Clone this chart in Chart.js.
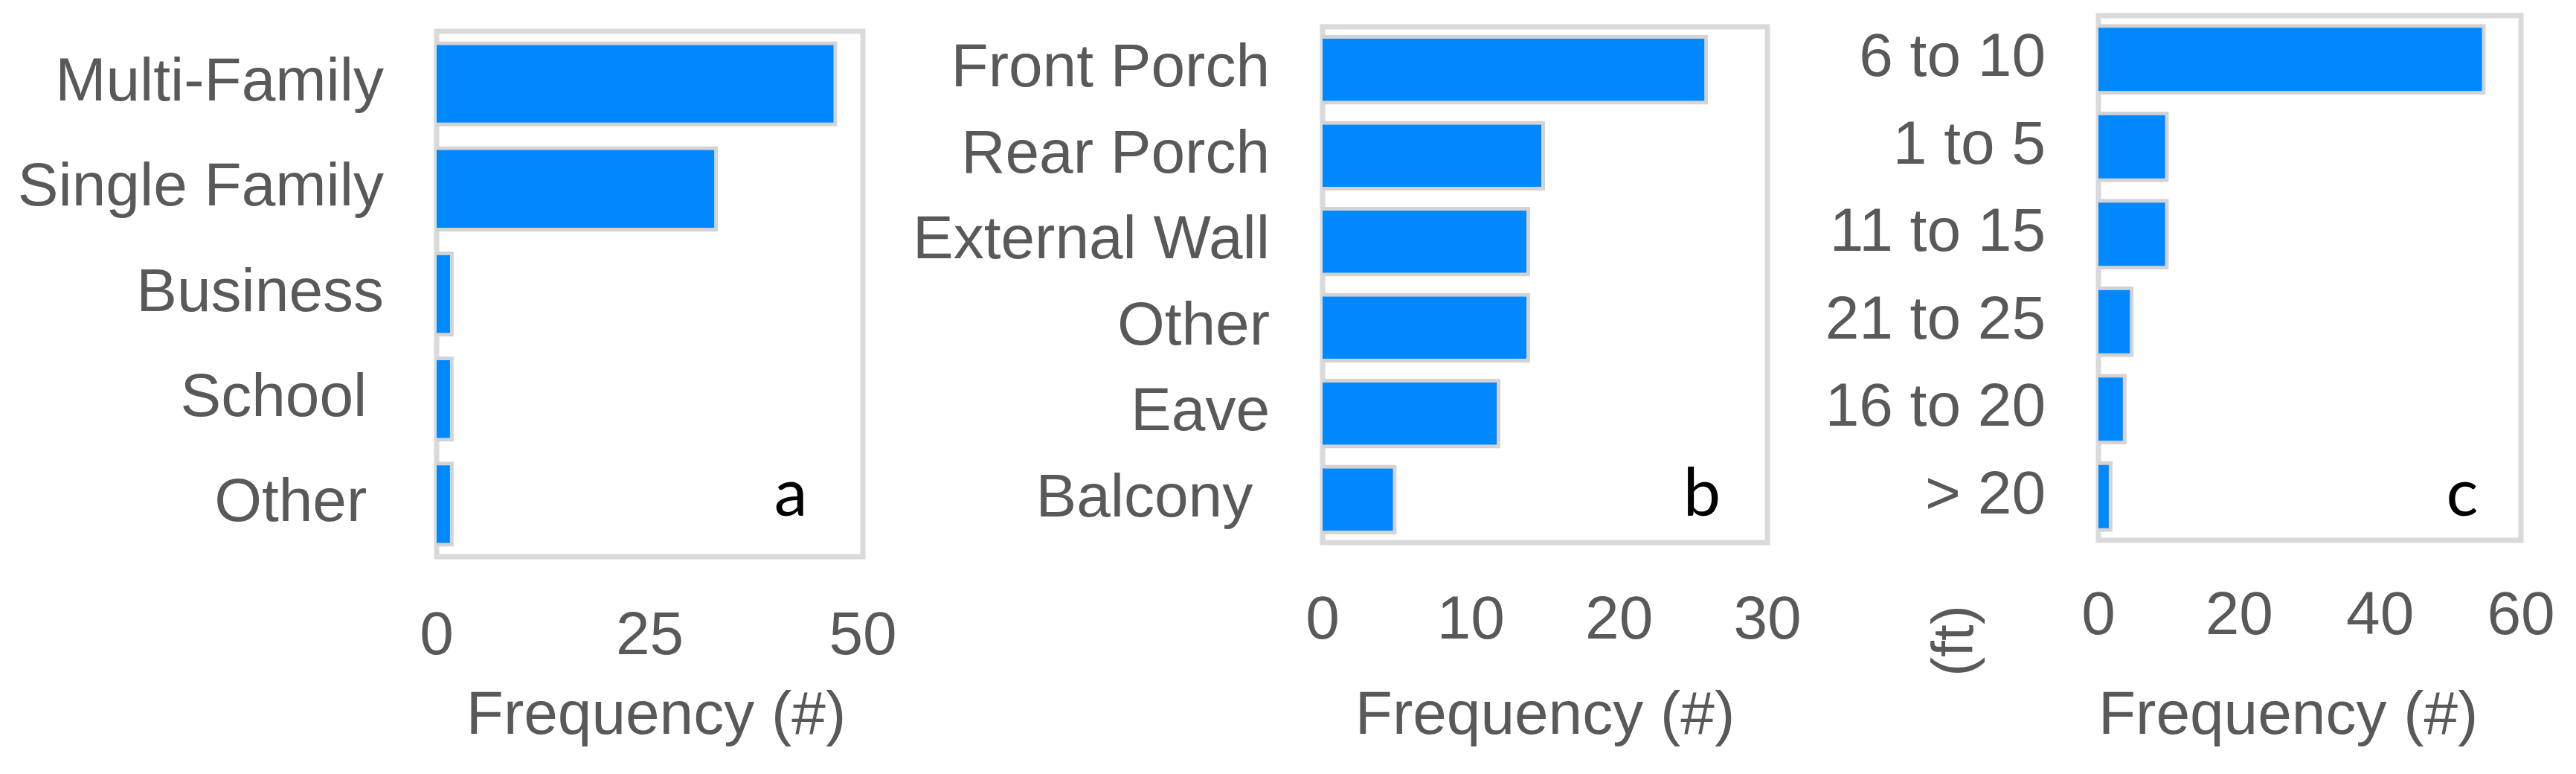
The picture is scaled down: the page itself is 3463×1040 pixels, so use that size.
<!DOCTYPE html>
<html>
<head>
<meta charset="utf-8">
<title>Frequency charts</title>
<script src="https://cdn.jsdelivr.net/npm/chart.js@4.4.1/dist/chart.umd.min.js"></script>
<style>
  html, body { margin: 0; padding: 0; background: #fff; }
  #wrap { position: relative; width: 3463px; height: 1040px; }
  #wrap canvas { position: absolute; left: 0; top: 0; }
</style>
</head>
<body>
<div id="wrap">
  <canvas id="chartA" width="3463" height="1040"></canvas>
  <canvas id="chartB" width="3463" height="1040"></canvas>
  <canvas id="chartC" width="3463" height="1040"></canvas>
</div>
<script>
// panel a - building type
const buildingLabels = ['Multi-Family', 'Single Family', 'Business', 'School ', 'Other '];
const buildingCounts = [47, 33, 2, 2, 2];
const buildingTicks = [0, 25, 50];

// panel b - location on structure
const locationLabels = ['Front Porch', 'Rear Porch', 'External Wall', 'Other', 'Eave', 'Balcony '];
const locationCounts = [26, 15, 14, 14, 12, 5];
const locationTicks = [0, 10, 20, 30];

// panel c - height (ft)
const heightLabels = ['6 to 10', '1 to 5', '11 to 15', '21 to 25', '16 to 20', '> 20'];
const heightCounts = [55, 10, 10, 5, 4, 2];
const heightTicks = [0, 20, 40, 60];

const W = 3463, H = 1040;
const GREY = '#595959';
const FONT = 'Liberation Sans';
const SIZE = 82;

// draws the light frame round the plot area, the panel letter and extra notes
const framePlugin = {
  id: 'frame',
  beforeDatasetsDraw(chart, args, opts) {
    const { ctx, chartArea: a } = chart;
    ctx.save();
    ctx.strokeStyle = '#dbdada';
    ctx.lineWidth = 7;
    ctx.strokeRect(a.left, a.top, a.right - a.left, a.bottom - a.top);
    ctx.restore();
  },
  afterDraw(chart, args, opts) {
    const { ctx, chartArea: a } = chart;
    ctx.save();
    ctx.fillStyle = '#000';
    ctx.font = '90px Lato';
    ctx.textAlign = 'center';
    ctx.textBaseline = 'alphabetic';
    ctx.fillText(opts.letter, a.right - opts.letterDx, a.bottom - opts.letterDy);
    if (opts.note) {
      ctx.fillStyle = GREY;
      ctx.font = '78px ' + FONT;
      ctx.textBaseline = 'middle';
      ctx.translate(a.left - opts.noteDx, a.bottom + opts.noteDy);
      ctx.rotate(-Math.PI / 2);
      ctx.fillText(opts.note, 0, 0);
    }
    ctx.restore();
  }
};

function makeChart(id, labels, values, ticks, box) {
  const ctx = document.getElementById(id).getContext('2d');
  return new Chart(ctx, {
    type: 'bar',
    data: {
      labels: labels,
      datasets: [{
        data: values,
        backgroundColor: '#0088ff',
        borderColor: '#d6d2d2',
        borderWidth: 5,
        barPercentage: 0.81,
        categoryPercentage: 1
      }]
    },
    plugins: [framePlugin],
    options: {
      indexAxis: 'y',
      responsive: false,
      animation: false,
      devicePixelRatio: 1,
      layout: { padding: { left: 0, right: W - box.right, top: box.top, bottom: 0 } },
      plugins: {
        legend: { display: false },
        tooltip: { enabled: false },
        frame: box.frame
      },
      scales: {
        x: {
          min: ticks[0],
          max: ticks[ticks.length - 1],
          grid: { display: false },
          border: { display: false },
          afterBuildTicks: s => { s.ticks = ticks.map(v => ({ value: v })); },
          afterFit: s => { s.height = H - box.bottom; s.paddingLeft = 0; s.paddingRight = 0; },
          ticks: { color: GREY, padding: box.tickPad, font: { family: FONT, size: SIZE } },
          title: {
            display: true,
            text: box.title,
            align: box.titleAlign,
            color: GREY,
            padding: { top: 0, bottom: 27 },
            font: { family: FONT, size: SIZE }
          }
        },
        y: {
          grid: { display: false },
          border: { display: false },
          afterFit: s => { s.width = box.left; s.paddingTop = 0; s.paddingBottom = 0; },
          ticks: { color: GREY, padding: 63, font: { family: FONT, size: SIZE } }
        }
      }
    }
  });
}

makeChart('chartA', buildingLabels, buildingCounts, buildingTicks, {
  left: 587, right: 1160, top: 42, bottom: 748, tickPad: 51,
  title: 'Frequency (#) ', titleAlign: 'end',
  frame: { letter: 'a', letterDx: 97, letterDy: 55 }
});
makeChart('chartB', locationLabels, locationCounts, locationTicks, {
  left: 1778, right: 2376, top: 36, bottom: 729, tickPad: 49,
  title: 'Frequency (#)', titleAlign: 'center',
  frame: { letter: 'b', letterDx: 88, letterDy: 36 }
});
makeChart('chartC', heightLabels, heightCounts, heightTicks, {
  left: 2821, right: 3389, top: 21, bottom: 726, tickPad: 46,
  title: 'Frequency (#)', titleAlign: 'start',
  frame: { letter: 'c', letterDx: 79, letterDy: 33, note: '(ft)', noteDx: 191, noteDy: 135 }
});
</script>
</body>
</html>
